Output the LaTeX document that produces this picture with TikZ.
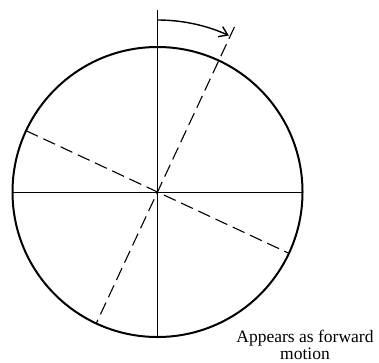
\documentclass[tikz,border=0pt]{standalone}
\usepackage{fontspec}
\setmainfont{Liberation Serif}
\usetikzlibrary{arrows.meta,calc}
\begin{document}
\begin{tikzpicture}[x=1pt,y=-1pt,
  rim/.style={line width=2pt},
  thinline/.style={line width=1pt},
  dashline/.style={line width=1.1pt, dash pattern=on 13pt off 6pt},
  motionarrow/.style={line width=1.4pt, -{Straight Barb[length=8pt,width=11pt]}},
  lbl/.style={font=\fontsize{17.5}{17}\selectfont, align=center, inner sep=0pt}]
\useasboundingbox (0,0) rectangle (379,362);
\coordinate (c) at (157.5,192);
\draw[rim] (c) circle[radius=145];
% solid cross
\coordinate (vt) at (157.5,10);
\coordinate (vb) at (157.5,337);
\coordinate (hl) at (12.5,192);
\coordinate (hr) at (302.5,192);
\draw[thinline] (vt) -- (vb);
\draw[thinline] (hl) -- (hr);
% dashed rotated cross
\coordinate (d1a) at ($(c)+(-65:182)$);
\coordinate (d1b) at ($(c)+(115:145)$);
\coordinate (d2a) at ($(c)+(205:145)$);
\coordinate (d2b) at ($(c)+(25:145)$);
\draw[dashline] (d1a) -- (d1b);
\draw[dashline] (d2a) -- (d2b);
% rotation arrow
\coordinate (as) at ($(c)+(-90:172)$);
\draw[motionarrow] (as) arc[start angle=-90, end angle=-65.5, radius=172];
% label
\node[lbl] (lab) at (305,344.5) {Appears as forward\\motion};
\end{tikzpicture}
\end{document}
